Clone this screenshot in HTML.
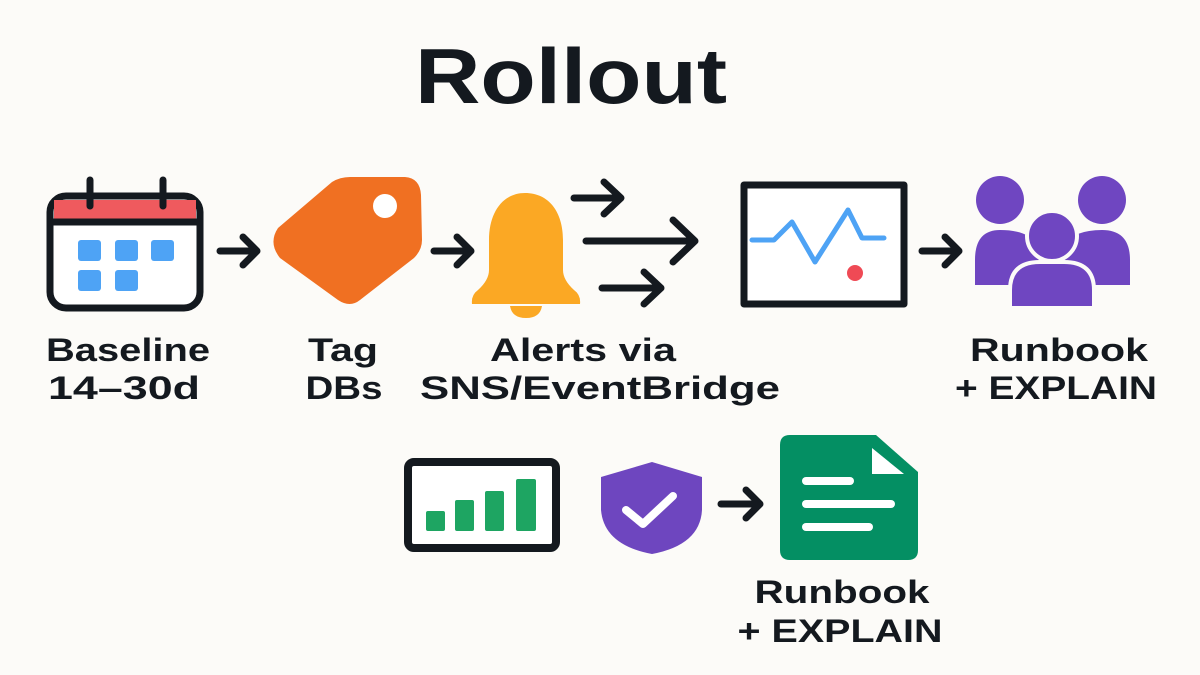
<!DOCTYPE html>
<html><head><meta charset="utf-8"><style>
html,body{margin:0;padding:0;background:#fcfbf8;}
svg{display:block}
text{font-family:"Liberation Sans",sans-serif;font-weight:bold;fill:#14191f;text-anchor:middle}
</style></head><body>
<svg width="1200" height="675" viewBox="0 0 1200 675">
<rect width="1200" height="675" fill="#fcfbf8"/>
<text x="571" y="103" font-size="78" textLength="312" lengthAdjust="spacingAndGlyphs">Rollout</text>
<g stroke="#14191f" stroke-width="7" stroke-linecap="round" stroke-linejoin="round" fill="none">
<rect x="50" y="196" width="150" height="112" rx="16" fill="#fff"/>
<path d="M54 200 h142 v20 h-142z" fill="#ef5a5e" stroke="none"/>
<line x1="50" y1="222" x2="200" y2="222"/>
<line x1="90" y1="180" x2="90" y2="206"/>
<line x1="163" y1="180" x2="163" y2="206"/>
<path d="M220 251 H256 M243 237 L257 251 L243 265"/>
<path d="M434 251 H470 M457 237 L471 251 L457 265"/>
<path d="M574 198 H620 M604 182 L621 198 L604 214"/>
<path d="M586 241 H694 M673 220 L695 241 L673 262"/>
<path d="M602 288 H661 M644 272 L661 288 L644 304"/>
<path d="M922 251 H958 M945 237 L959 251 L945 265"/>
<path d="M721 504 H759 M746 490 L760 504 L746 518"/>
<rect x="744" y="185" width="160" height="119" stroke-width="7" fill="#fff"/>
<rect x="408" y="462" width="148" height="86" rx="6" stroke-width="8" fill="#fff"/>
</g>
<g fill="#4ea3f5">
<rect x="78" y="240" width="23" height="21" rx="3"/><rect x="115" y="240" width="23" height="21" rx="3"/><rect x="151" y="240" width="23" height="21" rx="3"/>
<rect x="78" y="270" width="23" height="21" rx="3"/><rect x="115" y="270" width="23" height="21" rx="3"/>
</g>
<path d="M278 228 L332 182 Q340 177 350 177 L405 177 Q420 178 421 195 L422 240 Q422 250 414 258 L360 300 Q350 308 338 300 L280 258 Q268 243 278 228 Z" fill="#f07022"/>
<ellipse cx="385" cy="206" rx="12" ry="12" fill="#fff"/>
<path d="M525 193 C503 193 489 212 489 240 L489 270 Q489 280 478 290 Q471 295 472 304 L580 304 Q581 295 574 290 Q563 280 563 270 L563 240 C563 212 549 193 525 193 Z" fill="#fba824"/>
<path d="M510 306 L542 306 Q540 318 526 318 Q512 318 510 306 Z" fill="#fba824"/>
<polyline points="752,240 774,240 792,222 815,262 848,210 862,238 884,238" fill="none" stroke="#4ea3f5" stroke-width="5" stroke-linejoin="round" stroke-linecap="round"/>
<circle cx="855" cy="273" r="8" fill="#ef4a55"/>
<g fill="#6f46c1">
<circle cx="1000" cy="200" r="24"/><circle cx="1102" cy="200" r="24"/>
<path d="M975 285 L975 260 Q975 230 1000 230 Q1028 230 1038 245 L1040 285 Z"/>
<path d="M1062 285 L1064 245 Q1074 230 1102 230 Q1130 230 1130 260 L1130 285 Z"/>
<circle cx="1052" cy="236" r="25" fill="#6f46c1" stroke="#fcfbf8" stroke-width="4"/>
<path d="M1010 308 L1010 290 Q1010 262 1040 262 L1064 262 Q1094 262 1094 290 L1094 308 Z" stroke="#fcfbf8" stroke-width="4"/>
</g>
<g fill="#1ea562">
<rect x="426" y="511" width="19" height="20" rx="2"/><rect x="455" y="500" width="19" height="31" rx="2"/>
<rect x="485" y="491" width="19" height="40" rx="2"/><rect x="516" y="479" width="20" height="52" rx="2"/>
</g>
<path d="M652 462 L702 477 L702 510 Q700 545 652 554 Q604 545 601 510 L601 477 Z" fill="#6e46bf"/>
<polyline points="626,510 643,524 673,496" fill="none" stroke="#fff" stroke-width="8" stroke-linecap="round" stroke-linejoin="round"/>
<path d="M790 435 L876 435 L918 472 L918 550 Q918 560 908 560 L790 560 Q780 560 780 550 L780 445 Q780 435 790 435 Z" fill="#048f63"/>
<path d="M872 448 L872 474 L904 474 Z" fill="#fff"/>
<g stroke="#fff" stroke-width="8" stroke-linecap="round">
<line x1="806" y1="481" x2="850" y2="481"/><line x1="806" y1="504" x2="891" y2="504"/><line x1="806" y1="527" x2="869" y2="527"/>
</g>
<g font-size="32" lengthAdjust="spacingAndGlyphs">
<text x="128" y="361" textLength="164" lengthAdjust="spacingAndGlyphs">Baseline</text>
<text x="124" y="399" textLength="152" lengthAdjust="spacingAndGlyphs">14–30d</text>
<text x="343" y="361" textLength="70" lengthAdjust="spacingAndGlyphs">Tag</text>
<text x="344" y="399" textLength="77" lengthAdjust="spacingAndGlyphs">DBs</text>
<text x="583" y="361" textLength="186" lengthAdjust="spacingAndGlyphs">Alerts via</text>
<text x="600" y="399" textLength="360" lengthAdjust="spacingAndGlyphs">SNS/EventBridge</text>
<text x="1059" y="361" textLength="178" lengthAdjust="spacingAndGlyphs">Runbook</text>
<text x="1056" y="399" textLength="202" lengthAdjust="spacingAndGlyphs">+ EXPLAIN</text>
<text x="842" y="603" textLength="175" lengthAdjust="spacingAndGlyphs">Runbook</text>
<text x="840" y="642" textLength="205" lengthAdjust="spacingAndGlyphs">+ EXPLAIN</text>
</g>
</svg>
</body></html>
